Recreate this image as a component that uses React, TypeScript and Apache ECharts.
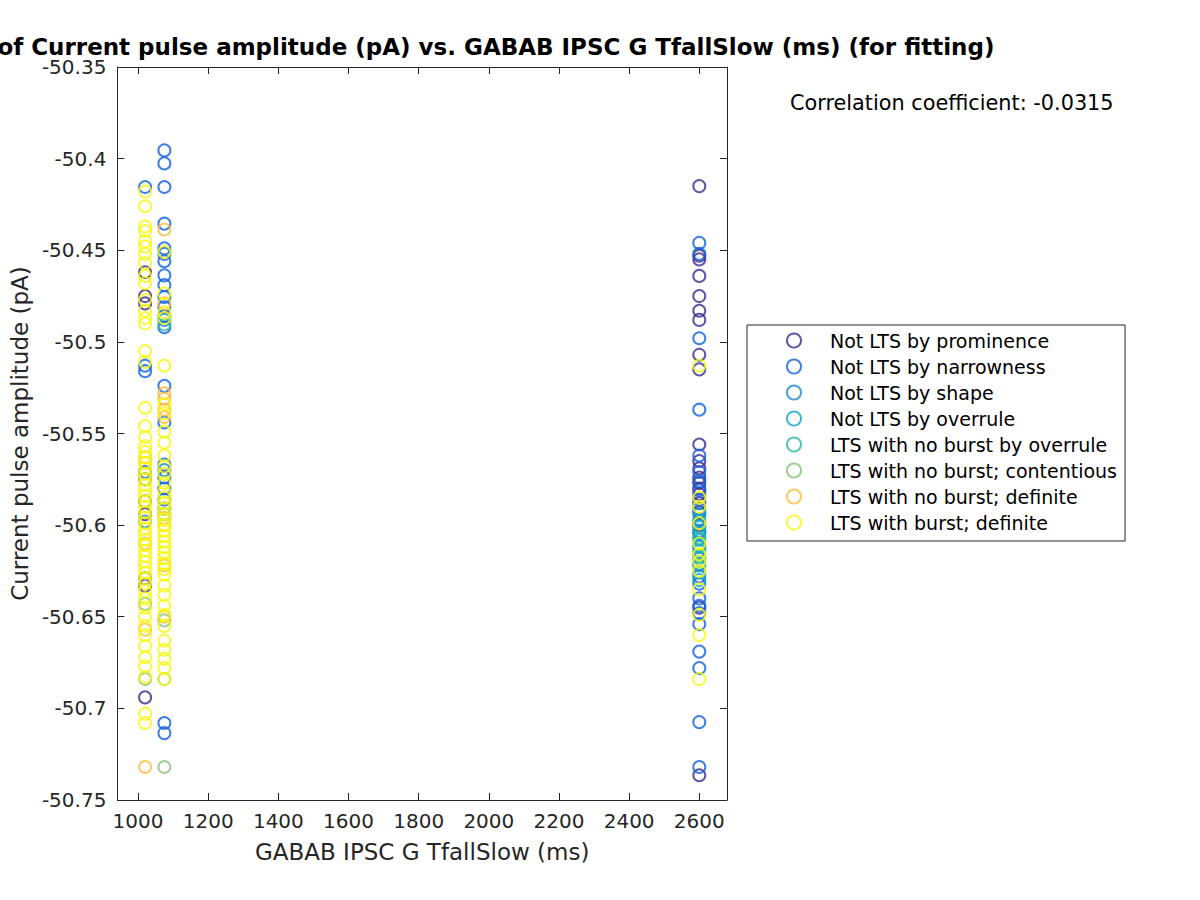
import React, { useEffect, useRef } from "react";
import * as echarts from "echarts";

const xColumns = [1020, 1075, 2600];

const groupNames = [
  "Not LTS by prominence",
  "Not LTS by narrowness",
  "Not LTS by shape",
  "Not LTS by overrule",
  "LTS with no burst by overrule",
  "LTS with no burst; contentious",
  "LTS with no burst; definite",
  "LTS with burst; definite",
];

const groupColors = ["#3b2c8c", "#1262dc", "#1a86d4", "#0aa7cb", "#2db8a0", "#8bc079", "#fbbc3c", "#f6f712"];

// each group: y values for x = 1020, 1075, 2600
const notLtsProminence = [
  [-50.462, -50.475, -50.479, -50.575, -50.587, -50.594, -50.629, -50.633, -50.694],
  [],
  [-50.415, -50.453, -50.455, -50.464, -50.475, -50.483, -50.488, -50.507, -50.515, -50.556, -50.565, -50.569, -50.574, -50.577, -50.58, -50.583, -50.588, -50.593, -50.6, -50.645, -50.7365],
];
const notLtsNarrowness = [
  [-50.4155, -50.513, -50.516, -50.571],
  [-50.3955, -50.4026, -50.4155, -50.4355, -50.449, -50.452, -50.456, -50.4637, -50.469, -50.4755, -50.481, -50.486, -50.492, -50.524, -50.544, -50.567, -50.574, -50.58, -50.586, -50.591, -50.708, -50.7135],
  [-50.446, -50.452, -50.498, -50.537, -50.562, -50.571, -50.576, -50.581, -50.586, -50.604, -50.628, -50.632, -50.64, -50.644, -50.648, -50.654, -50.669, -50.678, -50.7075, -50.732],
];
const notLtsShape = [
  [-50.598],
  [-50.488, -50.57],
  [-50.591, -50.597, -50.603, -50.612, -50.621],
];
const notLtsOverrule = [
  [],
  [-50.594],
  [-50.594, -50.598, -50.601, -50.605, -50.608, -50.611, -50.614, -50.618, -50.622, -50.626, -50.63],
];
const ltsNoBurstOverrule = [
  [],
  [-50.4905],
  [-50.607, -50.617],
];
const ltsNoBurstContentious = [
  [-50.643, -50.684],
  [-50.652, -50.684, -50.732],
  [],
];
const ltsNoBurstDefinite = [
  [-50.563, -50.566, -50.61, -50.657, -50.732],
  [-50.4387, -50.479, -50.528, -50.531, -50.537, -50.541, -50.596, -50.6, -50.622, -50.65],
  [],
];
const ltsBurstDefinite = [
  [-50.418, -50.426, -50.437, -50.4395, -50.445, -50.448, -50.452, -50.457, -50.464, -50.468, -50.477, -50.483, -50.487, -50.49, -50.505, -50.511, -50.536, -50.546, -50.552,
   -50.557, -50.56, -50.563, -50.566, -50.569, -50.572, -50.575, -50.578, -50.581, -50.584, -50.587, -50.59, -50.593, -50.596, -50.599, -50.602, -50.605, -50.608, -50.611, -50.614, -50.617, -50.62, -50.623, -50.626, -50.629,
   -50.632, -50.636, -50.64, -50.645, -50.65, -50.655, -50.66, -50.666, -50.672, -50.677, -50.683, -50.703, -50.708],
  [-50.451, -50.4735, -50.484, -50.487, -50.513, -50.534, -50.539, -50.549, -50.555, -50.562, -50.568, -50.572, -50.577, -50.582,
   -50.585, -50.588, -50.591, -50.594, -50.597, -50.6, -50.603, -50.606, -50.609, -50.612, -50.615, -50.618, -50.621, -50.624, -50.627,
   -50.633, -50.638, -50.644, -50.649, -50.655, -50.663, -50.668, -50.673, -50.678, -50.684],
  [-50.513, -50.585, -50.59, -50.599, -50.61, -50.616, -50.62, -50.625, -50.635, -50.649, -50.66, -50.684],
];

const groups = [
  notLtsProminence,
  notLtsNarrowness,
  notLtsShape,
  notLtsOverrule,
  ltsNoBurstOverrule,
  ltsNoBurstContentious,
  ltsNoBurstDefinite,
  ltsBurstDefinite,
];

const xRange = [941, 2679];
const yRange = [-50.75, -50.35];
const yStep = 0.05;
const correlationText = "Correlation coefficient: -0.0315";
const titleText = "Scatter plot of Current pulse amplitude (pA) vs. GABAB IPSC G TfallSlow (ms) (for fitting)";
const xName = "GABAB IPSC G TfallSlow (ms)";
const yName = "Current pulse amplitude (pA)";

const FONT = "DejaVu Sans";
const AX = "#262626";

export default function App() {
  const ref = useRef<HTMLDivElement>(null);
  useEffect(() => {
    document.body.style.margin = "0";
    const chart = echarts.init(ref.current!, null, { renderer: "svg" });
    const tickCommon = { show: true, inside: true, length: 7, lineStyle: { color: AX, width: 1 } };
    const lineCommon = { show: true, onZero: false, lineStyle: { color: AX, width: 1 } };
    const series = groups.map((g, gi) => ({
      type: "scatter",
      name: groupNames[gi],
      xAxisIndex: 0,
      yAxisIndex: 0,
      symbol: "circle",
      symbolSize: 12,
      itemStyle: { color: "transparent", borderColor: groupColors[gi], borderWidth: 2 },
      emphasis: { disabled: true },
      data: g.flatMap((ys, ci) => ys.map((y) => [xColumns[ci], y])),
    }));
    chart.setOption({
      animation: false,
      textStyle: { fontFamily: FONT },
      title: {
        text: titleText,
        left: 415,
        textAlign: "center",
        top: 35,
        padding: 0,
        textStyle: { fontFamily: FONT, fontSize: 23, fontWeight: "bold", color: "#000" },
      },
      grid: { left: 112, right: 473, top: 67, bottom: 100, containLabel: false },
      xAxis: [
        {
          type: "value",
          min: xRange[0],
          max: xRange[1],
          splitNumber: 9,
          position: "bottom",
          axisLine: lineCommon,
          axisTick: tickCommon,
          splitLine: { show: false },
          axisLabel: {
            margin: 11,
            fontSize: 20,
            fontFamily: FONT,
            color: AX,
            showMinLabel: false,
            showMaxLabel: false,
            formatter: (v: number) => (Math.abs(v / 200 - Math.round(v / 200)) < 1e-6 ? String(Math.round(v)) : ""),
          },
          name: xName,
          nameLocation: "middle",
          nameGap: 40,
          nameTextStyle: { fontSize: 23, fontFamily: FONT, color: AX },
        },
        {
          type: "value",
          min: xRange[0],
          max: xRange[1],
          splitNumber: 9,
          position: "top",
          axisLine: lineCommon,
          axisTick: tickCommon,
          splitLine: { show: false },
          axisLabel: { show: false },
        },
      ],
      yAxis: [
        {
          type: "value",
          min: yRange[0],
          max: yRange[1],
          interval: yStep,
          position: "left",
          axisLine: lineCommon,
          axisTick: tickCommon,
          splitLine: { show: false },
          axisLabel: {
            margin: 11,
            fontSize: 20,
            fontFamily: FONT,
            color: AX,
            formatter: (v: number) => String(parseFloat(v.toFixed(2))),
          },
          name: yName,
          nameLocation: "middle",
          nameGap: 82,
          nameTextStyle: { fontSize: 23, fontFamily: FONT, color: AX },
        },
        {
          type: "value",
          min: yRange[0],
          max: yRange[1],
          interval: yStep,
          position: "right",
          axisLine: lineCommon,
          axisTick: tickCommon,
          splitLine: { show: false },
          axisLabel: { show: false },
        },
      ],
      legend: {
        orient: "vertical",
        left: 747,
        top: 325,
        padding: [6, 8, 9, 39],
        itemGap: 7,
        itemWidth: 14,
        itemHeight: 14,
        textStyle: { fontSize: 19, fontFamily: FONT, color: "#000", padding: [0, 0, 0, 24] },
        borderColor: AX,
        borderWidth: 1,
        backgroundColor: "#fff",
        selectedMode: false,
        data: groupNames.map((n, i) => ({
          name: n,
          icon: "circle",
          itemStyle: { color: "transparent", borderColor: groupColors[i], borderWidth: 2 },
        })),
      },
      graphic: [
        {
          type: "text",
          left: 790,
          top: 92,
          style: { text: correlationText, font: `20.8px '${FONT}'`, fill: "#000" },
        },
      ],
      series,
    });
    return () => chart.dispose();
  }, []);
  return <div ref={ref} style={{ width: 1200, height: 900 }} />;
}
